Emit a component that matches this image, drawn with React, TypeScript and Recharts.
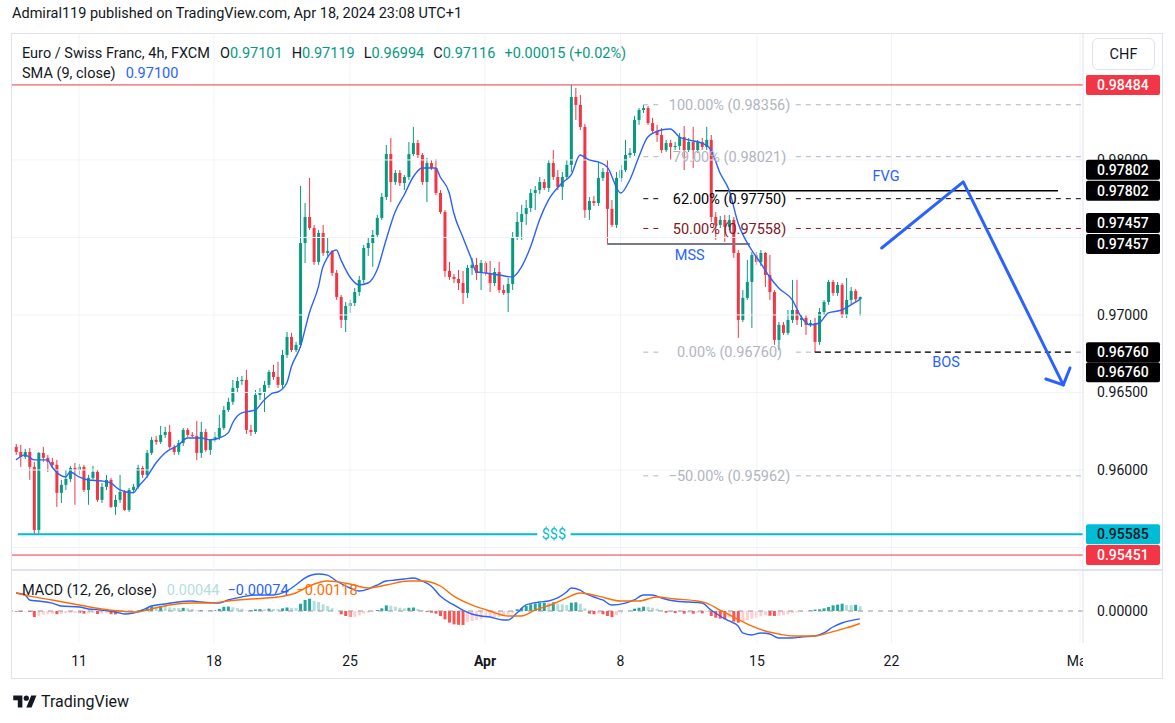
import React from 'react';
import { ComposedChart, Bar, Line, XAxis, YAxis, ReferenceLine, ReferenceDot, Cell } from 'recharts';

const FONT = "Roboto, 'Noto Sans', 'DejaVu Sans', sans-serif";
const TEXT = '#131722';
const UP = '#089981';
const DOWN = '#f23645';
const GRID = '#f0f3fa';
const BLUE = '#2962ff';
const ORANGE = '#ff6d00';
const FIBGRAY = '#b2b5be';
const BORDER = '#e0e3eb';

const CHART_W = 1152;
const AXIS_W = 80;
const AXIS_X = CHART_W - AXIS_W;
const MAIN_H = 536;
const MACD_H = 108;
const TIME_H = 35;
const X_DOMAIN: [number, number] = [-1.11, 236.43];
const PRICE_DOMAIN: [number, number] = [0.95361, 0.98819];
const MACD_DOMAIN: [number, number] = [-0.00302, 0.00387];

// ---- 4h candles, EUR/CHF ----
const opens = [
  0.96149, 0.96116, 0.96084, 0.96116, 0.96020, 0.95613, 0.96110, 0.96078, 0.96052, 0.96033,
  0.95852, 0.95904, 0.95942, 0.96013, 0.96000, 0.96020, 0.95871, 0.95949, 0.95987, 0.95807,
  0.95891, 0.95936, 0.95762, 0.95807, 0.95858, 0.95742, 0.95871, 0.95891, 0.96013, 0.95968,
  0.96110, 0.96194, 0.96181, 0.96226, 0.96245, 0.96149, 0.96116, 0.96174, 0.96258, 0.96226,
  0.96220, 0.96110, 0.96245, 0.96129, 0.96194, 0.96213, 0.96271, 0.96387, 0.96439, 0.96529,
  0.96574, 0.96581, 0.96258, 0.96245, 0.96484, 0.96503, 0.96549, 0.96632, 0.96600, 0.96549,
  0.96742, 0.96858, 0.96774, 0.96807, 0.97464, 0.97632, 0.97561, 0.97342, 0.97529, 0.97400,
  0.97413, 0.97271, 0.97116, 0.96968, 0.97058, 0.97077, 0.97148, 0.97226, 0.97432, 0.97464,
  0.97516, 0.97626, 0.97761, 0.98038, 0.97858, 0.97916, 0.97851, 0.97890, 0.98038, 0.98109,
  0.98032, 0.97858, 0.97980, 0.97948, 0.97787, 0.97664, 0.97284, 0.97245, 0.97232, 0.97206,
  0.97142, 0.97303, 0.97323, 0.97271, 0.97335, 0.97271, 0.97206, 0.97277, 0.97161, 0.97142,
  0.97200, 0.97503, 0.97600, 0.97651, 0.97690, 0.97787, 0.97806, 0.97858, 0.97819, 0.97980,
  0.97890, 0.97826, 0.97890, 0.97968, 0.98406, 0.98355, 0.98213, 0.97677, 0.97735, 0.97722,
  0.97884, 0.97922, 0.97684, 0.97581, 0.97884, 0.97935, 0.98032, 0.98045, 0.98258, 0.98322,
  0.98335, 0.98238, 0.98187, 0.98161, 0.98064, 0.98109, 0.98084, 0.98090, 0.98148, 0.98064,
  0.98116, 0.98064, 0.98116, 0.98084, 0.98129, 0.97632, 0.97581, 0.97613, 0.97568, 0.97613,
  0.97400, 0.96968, 0.97110, 0.97213, 0.97387, 0.97342, 0.97400, 0.97258, 0.97148, 0.96839,
  0.96936, 0.96884, 0.96968, 0.97032, 0.96968, 0.96981, 0.96936, 0.96948, 0.96826, 0.97019,
  0.97084, 0.97213, 0.97142, 0.97194, 0.97000, 0.97097, 0.97155, 0.97101,
];
const highs = [
  0.96168, 0.96162, 0.96136, 0.96142, 0.96052, 0.96116, 0.96149, 0.96097, 0.96078, 0.96065,
  0.95936, 0.96000, 0.96026, 0.96045, 0.96039, 0.96033, 0.95968, 0.96026, 0.96000, 0.95916,
  0.95968, 0.95949, 0.95839, 0.95968, 0.95871, 0.95884, 0.95910, 0.96033, 0.96026, 0.96129,
  0.96213, 0.96220, 0.96284, 0.96278, 0.96291, 0.96162, 0.96194, 0.96271, 0.96271, 0.96245,
  0.96316, 0.96310, 0.96265, 0.96200, 0.96245, 0.96355, 0.96413, 0.96465, 0.96581, 0.96600,
  0.96607, 0.96645, 0.96291, 0.96516, 0.96529, 0.96574, 0.96645, 0.96678, 0.96697, 0.96774,
  0.96890, 0.96884, 0.96826, 0.97832, 0.97722, 0.97884, 0.97581, 0.97548, 0.97581, 0.97497,
  0.97419, 0.97290, 0.97129, 0.97084, 0.97097, 0.97174, 0.97252, 0.97452, 0.97497, 0.97548,
  0.97645, 0.97787, 0.98097, 0.98142, 0.97935, 0.97935, 0.97903, 0.98116, 0.98213, 0.98129,
  0.98045, 0.98013, 0.98000, 0.98006, 0.97806, 0.97677, 0.97342, 0.97264, 0.97290, 0.97284,
  0.97323, 0.97368, 0.97368, 0.97355, 0.97348, 0.97348, 0.97303, 0.97342, 0.97194, 0.97239,
  0.97535, 0.97664, 0.97710, 0.97742, 0.97813, 0.97832, 0.97890, 0.97877, 0.98000, 0.98064,
  0.97935, 0.97922, 0.98000, 0.98484, 0.98465, 0.98419, 0.98232, 0.97761, 0.97768, 0.97987,
  0.97948, 0.98000, 0.97742, 0.97922, 0.97968, 0.98129, 0.98077, 0.98284, 0.98335, 0.98356,
  0.98348, 0.98271, 0.98226, 0.98206, 0.98129, 0.98129, 0.98116, 0.98174, 0.98219, 0.98142,
  0.98213, 0.98129, 0.98142, 0.98213, 0.98161, 0.97664, 0.97639, 0.97645, 0.97645, 0.97632,
  0.97419, 0.97161, 0.97355, 0.97406, 0.97406, 0.97419, 0.97406, 0.97387, 0.97161, 0.96955,
  0.96955, 0.97032, 0.97226, 0.97226, 0.97000, 0.97000, 0.96968, 0.96981, 0.97045, 0.97097,
  0.97226, 0.97226, 0.97213, 0.97206, 0.97239, 0.97181, 0.97168, 0.97119,
];
const lows = [
  0.96097, 0.96020, 0.96071, 0.95936, 0.95585, 0.95590, 0.96052, 0.95987, 0.96013, 0.95762,
  0.95787, 0.95871, 0.95923, 0.95775, 0.95968, 0.95858, 0.95775, 0.95936, 0.95794, 0.95787,
  0.95871, 0.95755, 0.95710, 0.95787, 0.95736, 0.95729, 0.95852, 0.95878, 0.95949, 0.95949,
  0.96097, 0.96162, 0.96168, 0.96207, 0.96136, 0.96097, 0.96097, 0.96155, 0.96213, 0.96207,
  0.96065, 0.96078, 0.96116, 0.96097, 0.96181, 0.96194, 0.96258, 0.96374, 0.96420, 0.96497,
  0.96549, 0.96232, 0.96220, 0.96232, 0.96452, 0.96374, 0.96529, 0.96581, 0.96529, 0.96529,
  0.96723, 0.96761, 0.96761, 0.96787, 0.97335, 0.97548, 0.97323, 0.97323, 0.97381, 0.97381,
  0.97252, 0.97097, 0.96916, 0.96890, 0.97013, 0.97058, 0.97123, 0.97206, 0.97381, 0.97310,
  0.97497, 0.97613, 0.97742, 0.97729, 0.97839, 0.97832, 0.97806, 0.97871, 0.98026, 0.98013,
  0.97839, 0.97729, 0.97935, 0.97774, 0.97651, 0.97245, 0.97226, 0.97206, 0.97161, 0.97071,
  0.97110, 0.97258, 0.97226, 0.97161, 0.97252, 0.97148, 0.97187, 0.97142, 0.97129, 0.97019,
  0.97161, 0.97484, 0.97484, 0.97581, 0.97664, 0.97677, 0.97780, 0.97806, 0.97793, 0.97871,
  0.97806, 0.97742, 0.97871, 0.97922, 0.98258, 0.98193, 0.97626, 0.97613, 0.97703, 0.97703,
  0.97864, 0.97457, 0.97568, 0.97561, 0.97858, 0.97922, 0.98013, 0.98026, 0.98226, 0.98303,
  0.98226, 0.98174, 0.98116, 0.98045, 0.98051, 0.98000, 0.98064, 0.98064, 0.97935, 0.98051,
  0.97948, 0.98045, 0.98064, 0.98064, 0.97600, 0.97484, 0.97561, 0.97471, 0.97548, 0.97368,
  0.96852, 0.96955, 0.97097, 0.96916, 0.97323, 0.97316, 0.97181, 0.97097, 0.96807, 0.96774,
  0.96871, 0.96871, 0.96948, 0.96936, 0.96923, 0.96871, 0.96923, 0.96760, 0.96807, 0.97000,
  0.97065, 0.97123, 0.97123, 0.96981, 0.96981, 0.97065, 0.97077, 0.96994,
];
const closes = [
  0.96116, 0.96084, 0.96116, 0.96020, 0.95613, 0.96110, 0.96078, 0.96052, 0.96033, 0.95852,
  0.95904, 0.95942, 0.96013, 0.96000, 0.96020, 0.95871, 0.95949, 0.95987, 0.95807, 0.95891,
  0.95936, 0.95762, 0.95807, 0.95858, 0.95742, 0.95871, 0.95891, 0.96013, 0.95968, 0.96110,
  0.96194, 0.96181, 0.96226, 0.96245, 0.96149, 0.96116, 0.96174, 0.96258, 0.96226, 0.96220,
  0.96110, 0.96245, 0.96129, 0.96194, 0.96213, 0.96271, 0.96387, 0.96439, 0.96529, 0.96574,
  0.96581, 0.96258, 0.96245, 0.96484, 0.96503, 0.96549, 0.96632, 0.96600, 0.96549, 0.96742,
  0.96858, 0.96774, 0.96807, 0.97464, 0.97632, 0.97561, 0.97342, 0.97529, 0.97400, 0.97413,
  0.97271, 0.97116, 0.96968, 0.97058, 0.97077, 0.97148, 0.97226, 0.97432, 0.97464, 0.97516,
  0.97626, 0.97761, 0.98038, 0.97858, 0.97916, 0.97851, 0.97890, 0.98038, 0.98109, 0.98032,
  0.97858, 0.97980, 0.97948, 0.97787, 0.97664, 0.97284, 0.97245, 0.97232, 0.97206, 0.97142,
  0.97303, 0.97323, 0.97271, 0.97335, 0.97271, 0.97206, 0.97277, 0.97161, 0.97142, 0.97200,
  0.97503, 0.97600, 0.97651, 0.97690, 0.97787, 0.97806, 0.97858, 0.97819, 0.97980, 0.97890,
  0.97826, 0.97890, 0.97968, 0.98406, 0.98355, 0.98213, 0.97677, 0.97735, 0.97722, 0.97884,
  0.97922, 0.97684, 0.97581, 0.97884, 0.97935, 0.98032, 0.98045, 0.98258, 0.98322, 0.98335,
  0.98238, 0.98187, 0.98161, 0.98064, 0.98109, 0.98084, 0.98090, 0.98148, 0.98064, 0.98116,
  0.98064, 0.98116, 0.98084, 0.98129, 0.97632, 0.97581, 0.97613, 0.97568, 0.97613, 0.97400,
  0.96968, 0.97110, 0.97213, 0.97387, 0.97342, 0.97400, 0.97258, 0.97148, 0.96839, 0.96936,
  0.96884, 0.96968, 0.97032, 0.96968, 0.96981, 0.96936, 0.96948, 0.96826, 0.97019, 0.97084,
  0.97213, 0.97142, 0.97194, 0.97000, 0.97097, 0.97155, 0.97101, 0.97116,
];

// ---- SMA(9, close) ----
const smaIdx = [
  0, 2, 4, 7, 8, 11, 12, 14, 16, 19, 21, 23, 26, 27, 29, 31, 33, 36, 38, 41, 43, 45, 47, 48, 50,
  53, 55, 57, 58, 60, 61, 63, 65, 67, 68, 71, 72, 74, 76, 78, 80, 82, 84, 86, 88, 90, 93, 94, 96,
  97, 99, 101, 102, 104, 107, 110, 112, 114, 116, 118, 121, 123, 125, 127, 129, 131, 134, 136,
  138, 140, 143, 145, 147, 149, 152, 154, 156, 158, 160, 163, 165, 167, 169, 172, 174, 176, 178,
  180, 183, 185, 187,
];
const smaVal = [
  0.96065, 0.96097, 0.96065, 0.96065, 0.96019, 0.95955, 0.95987, 0.95955, 0.95935, 0.95929,
  0.95916, 0.95871, 0.95852, 0.95890, 0.95955, 0.96045, 0.96110, 0.96161, 0.96206, 0.96206,
  0.96194, 0.96206, 0.96239, 0.96303, 0.96368, 0.96387, 0.96452, 0.96497, 0.96503, 0.96561,
  0.96664, 0.96794, 0.97013, 0.97181, 0.97310, 0.97419, 0.97355, 0.97245, 0.97194, 0.97206,
  0.97290, 0.97484, 0.97664, 0.97774, 0.97890, 0.97948, 0.97948, 0.97890, 0.97787, 0.97658,
  0.97503, 0.97355, 0.97277, 0.97271, 0.97258, 0.97245, 0.97310, 0.97439, 0.97613, 0.97742,
  0.97851, 0.97903, 0.98032, 0.98000, 0.97987, 0.97955, 0.97787, 0.97871, 0.98019, 0.98148,
  0.98193, 0.98200, 0.98148, 0.98129, 0.98109, 0.98064, 0.97916, 0.97806, 0.97593, 0.97419,
  0.97335, 0.97245, 0.97174, 0.97097, 0.96987, 0.96936, 0.96948, 0.97013, 0.97032, 0.97065,
  0.97100,
];

// ---- MACD (12, 26, close) ----
const macdIdx = [
  0, 2, 3, 5, 8, 10, 14, 16, 19, 22, 24, 26, 28, 30, 33, 36, 39, 41, 45, 47, 50, 53, 57, 60, 62,
  64, 67, 69, 71, 74, 76, 78, 80, 82, 84, 86, 88, 90, 92, 94, 97, 99, 101, 103, 105, 108, 109,
  111, 113, 116, 118, 120, 122, 123, 125, 126, 128, 130, 132, 135, 137, 139, 141, 143, 146, 149,
  152, 154, 156, 158, 160, 161, 163, 165, 167, 169, 172, 174, 177, 179, 181, 183, 187,
];
const macdVal = [
  0.0017, 0.00151, 0.00104, 0.00094, 0.00075, 0.00047, 0.00038, 0.00019, 0.00009, -0.00009,
  -0.00028, -0.00019, 0.00009, 0.00047, 0.00066, 0.00085, 0.00094, 0.00085, 0.00075, 0.00104,
  0.00132, 0.00151, 0.00151, 0.00189, 0.00245, 0.00311, 0.00349, 0.00339, 0.00283, 0.00217,
  0.00189, 0.00207, 0.00245, 0.00283, 0.00292, 0.00302, 0.00311, 0.00283, 0.00236, 0.00141,
  0.00057, 0.00009, -0.00028, -0.00047, -0.00057, -0.00085, -0.00085, -0.00019, 0.00057, 0.00085,
  0.00094, 0.00123, 0.00179, 0.00217, 0.00198, 0.0017, 0.00132, 0.00104, 0.00057, 0.00075,
  0.00104, 0.00151, 0.00151, 0.00123, 0.00094, 0.00085, 0.00075, 0.00009, -0.00047, -0.00094,
  -0.00141, -0.00207, -0.00226, -0.00207, -0.00217, -0.00255, -0.00255, -0.00245, -0.00236,
  -0.00207, -0.00151, -0.00113, -0.00074,
];
const sigIdx = [
  0, 3, 8, 14, 19, 23, 27, 30, 34, 39, 43, 47, 52, 58, 62, 65, 69, 74, 78, 82, 87, 90, 94, 97,
  101, 105, 109, 112, 115, 119, 122, 125, 129, 134, 138, 142, 146, 151, 153, 156, 159, 163, 166,
  169, 172, 177, 180, 184, 187,
];
const sigVal = [
  0.0017, 0.00141, 0.00104, 0.00057, 0.00019, 0, -0.00009, 0.00019, 0.00057, 0.00075,
  0.00075, 0.00094, 0.00113, 0.00132, 0.0017, 0.00236, 0.00283, 0.00255, 0.00217, 0.00245,
  0.00283, 0.00283, 0.00236, 0.00141, 0.00057, 0, -0.00047, -0.00047, 0.00009, 0.00066,
  0.00123, 0.0017, 0.00141, 0.00094, 0.00094, 0.00132, 0.00113, 0.00094, 0.00075, 0.00009,
  -0.00057, -0.00141, -0.00189, -0.00217, -0.00236, -0.00236, -0.00207, -0.0016, -0.00118,
];
const hist = [
  -0.00006, -0.00009, -0.00006, -0.0001, -0.00057, -0.00045, -0.00035, -0.0003, -0.00025, -0.0003,
  -0.00028, -0.00022, -0.0002, -0.00018, -0.0002, -0.00025, -0.00022, -0.0002, -0.00028, -0.00025,
  -0.0002, -0.0003, -0.00032, -0.00022, -0.00012, -0.00008, -0.00005, 0.00006, 0.00015, 0.0003,
  0.00045, 0.00043, 0.00048, 0.00046, 0.00035, 0.0003, 0.00028, 0.0003, 0.00025, 0.0002,
  0.00006, 0.00008, 0.00003, 0.00005, 0.00008, 0.0002, 0.0004, 0.00042, 0.00035, 0.00028,
  0.00022, 0.00005, 0.0001, 0.00015, 0.00018, 0.00016, 0.00022, 0.0002, 0.00018, 0.00025,
  0.00033, 0.0003, 0.00028, 0.00069, 0.00104, 0.00116, 0.00094, 0.00085, 0.00063, 0.00047,
  0.00025, 0.00003, -0.00031, -0.00047, -0.00057, -0.00055, -0.00041, -0.00025, -0.00016, -0.00006,
  0.00009, 0.00025, 0.00053, 0.0005, 0.00041, 0.00031, 0.00025, 0.00031, 0.00033, 0.00019,
  0.00006, -0.00009, -0.00016, -0.00025, -0.00047, -0.00079, -0.0011, -0.00126, -0.0013, -0.00132,
  -0.00104, -0.00094, -0.00085, -0.00079, -0.00063, -0.00057, -0.00055, -0.00053, -0.00047, -0.00031,
  -0.00019, 0.00016, 0.00025, 0.00047, 0.00063, 0.00072, 0.00075, 0.00079, 0.00077, 0.00082,
  0.00069, 0.00063, 0.00057, 0.00079, 0.00082, 0.00069, 0.00025, -0.00025, -0.00031, -0.00025,
  -0.00031, -0.00047, -0.00057, -0.00041, -0.00022, -0.00003, 0.00003, 0.00022, 0.00031, 0.00041,
  0.00038, 0.00031, 0.00022, 0.00006, -0.00016, -0.00012, -0.00019, -0.00009, -0.00025, -0.00016,
  -0.00025, -0.00016, -0.00022, -0.00009, -0.00047, -0.00063, -0.00072, -0.00079, -0.00063, -0.001,
  -0.0011, -0.001, -0.00088, -0.00072, -0.00063, -0.0005, -0.00041, -0.00045, -0.00047, -0.00045,
  -0.00041, -0.00031, -0.00019, -0.00013, -0.00009, -0.00003, 0.00006, 0.00013, 0.00016, 0.00025,
  0.00038, 0.00053, 0.0006, 0.00069, 0.00057, 0.00055, 0.00058, 0.00044,
];

// ---- axes ----
const tickPositions = [13.96, 43.87, 74.01, 103.92, 133.95, 164.19, 193.99, 235.76];
const tickLabels = ['11', '18', '25', 'Apr', '8', '15', '22', 'May'];
const priceGrid = [0.955, 0.96, 0.965, 0.97, 0.975, 0.98];
const priceLabels = [0.96, 0.965, 0.97, 0.98];

// ---- drawings ----
const priceBoxes = [
  { value: 0.98484, bg: '#f23645', fg: '#ffffff', shifts: [0] },
  { value: 0.97802, bg: '#000000', fg: '#ffffff', shifts: [-21, 0] },
  { value: 0.97457, bg: '#000000', fg: '#ffffff', shifts: [-21, 0] },
  { value: 0.9676, bg: '#000000', fg: '#ffffff', shifts: [0, 20] },
  { value: 0.95585, bg: '#00bcd4', fg: '#131722', shifts: [0] },
  { value: 0.95451, bg: '#f23645', fg: '#ffffff', shifts: [0] },
];
const fibLevels = [
  { label: '100.00% (0.98356)', value: 0.98356, color: FIBGRAY },
  { label: '79.00% (0.98021)', value: 0.98021, color: FIBGRAY },
  { label: '62.00% (0.97750)', value: 0.9775, color: '#000000' },
  { label: '50.00% (0.97558)', value: 0.97558, color: '#801922' },
  { label: '0.00% (0.96760)', value: 0.9676, color: FIBGRAY },
  { label: '\u221250.00% (0.95962)', value: 0.95962, color: FIBGRAY },
];
const fibStart = 139;
const fibGapLeft = 143.4;
const fibGapRight = 172.8;
const fibTextAt = 158.1;
const arrowShaft = [
  { i: 191.82, v: 0.97432 },
  { i: 209.9, v: 0.97858 },
  { i: 232.06, v: 0.96549 },
];
const arrowHead = [
  { i: 228.2, v: 0.96587 },
  { i: 232.06, v: 0.96549 },
  { i: 233.55, v: 0.96658 },
];
const notes = [
  { text: 'MSS', i: 149.3, v: 0.97387, color: BLUE },
  { text: 'FVG', i: 192.8, v: 0.97897, color: BLUE },
  { text: 'BOS', i: 206.1, v: 0.96697, color: BLUE },
  { text: '$$$', i: 119.2, v: 0.95585, color: '#00bcd4' },
];

const Candle = (props: any) => {
  const { x, y, width, height, payload } = props;
  if (!payload) return null;
  const top = Math.min(y, y + height);
  const h = Math.abs(height);
  const span = payload.high - payload.low;
  const per = span > 0 ? h / span : 0;
  const yO = top + (payload.high - payload.open) * per;
  const yC = top + (payload.high - payload.close) * per;
  const color = payload.close >= payload.open ? UP : DOWN;
  const cx = x + width / 2;
  return (
    <g>
      <line x1={cx} x2={cx} y1={top} y2={top + h} stroke={color} strokeWidth={1} />
      <rect x={x} y={Math.min(yO, yC)} width={width} height={Math.max(1, Math.abs(yC - yO))} fill={color} />
    </g>
  );
};

const PriceTick = (props: any) => {
  const { y, payload } = props;
  const v = payload.value as number;
  const box = priceBoxes.find((b) => Math.abs(b.value - v) < 1e-9);
  if (!box) {
    return (
      <text x={AXIS_X + 14} y={y} dy="0.36em" fontSize={14} fill={TEXT} fontFamily={FONT}>
        {v.toFixed(5)}
      </text>
    );
  }
  return (
    <g>
      {box.shifts.map((s, k) => (
        <g key={k}>
          <rect x={AXIS_X + 3} y={y + s - 10} width={74} height={20} rx={2} fill={box.bg} />
          <text x={AXIS_X + 14} y={y + s} dy="0.36em" fontSize={14} fill={box.fg} fontFamily={FONT} fontWeight={500}>
            {v.toFixed(5)}
          </text>
        </g>
      ))}
    </g>
  );
};

const MacdTick = (props: any) => {
  const { y, payload } = props;
  return (
    <text x={AXIS_X + 14} y={y} dy="0.36em" fontSize={14} fill={TEXT} fontFamily={FONT}>
      {(payload.value as number).toFixed(5)}
    </text>
  );
};

const TimeTick = (props: any) => {
  const { x, payload } = props;
  const k = tickPositions.indexOf(payload.value);
  const label = tickLabels[k];
  return (
    <svg x={0} y={MACD_H - TIME_H} width={AXIS_X} height={TIME_H} overflow="hidden">
      <text x={x} y={18} dy="0.36em" textAnchor="middle" fontSize={14} fill={TEXT} fontFamily={FONT}
        fontWeight={label === 'Apr' ? 700 : 400}>
        {label}
      </text>
    </svg>
  );
};

const TvLogo = () => (
  <svg width={24} height={17} viewBox="0 0 36 26">
    <path d="M14 22H7V11H0V4h14v18z" fill={TEXT} />
    <circle cx={20} cy={8} r={4} fill={TEXT} />
    <path d="M28 22h-8l7.5-18h8L28 22z" fill={TEXT} />
  </svg>
);

export default function App() {
  const candles = opens.map((o, i) => ({
    i, open: o, high: highs[i], low: lows[i], close: closes[i], range: [lows[i], highs[i]],
  }));
  const smaData = smaIdx.map((i, k) => ({ i, v: smaVal[k] }));
  const macdData = macdIdx.map((i, k) => ({ i, v: macdVal[k] }));
  const sigData = sigIdx.map((i, k) => ({ i, v: sigVal[k] }));
  const histData = hist.map((h, i) => ({ i, h }));
  const histColors = hist.map((h, i) => {
    const p = i > 0 ? hist[i - 1] : h;
    if (h >= 0) return h >= p ? '#26a69a' : '#b2dfdb';
    return h <= p ? '#ff5252' : '#ffcdd2';
  });
  const yTicks = [...priceLabels, ...priceBoxes.map((b) => b.value)];
  const xEnd = X_DOMAIN[1];

  const green = { color: UP };
  const legendStyle: React.CSSProperties = {
    position: 'absolute', left: 22, fontSize: 14.5, lineHeight: '20px', color: TEXT,
    fontFamily: FONT, whiteSpace: 'nowrap',
  };

  return (
    <div style={{ position: 'absolute', left: 0, top: 0, width: 1175, height: 723, background: '#fff', fontFamily: FONT }}>
      <div style={{ position: 'absolute', left: 12, top: 4, fontSize: 14.5, lineHeight: '20px', color: TEXT, whiteSpace: 'nowrap' }}>
        Admiral119 published on TradingView.com, Apr 18, 2024 23:08 UTC+1
      </div>

      <div style={{ position: 'absolute', left: 11, top: 33 }}>
        <ComposedChart width={CHART_W} height={MAIN_H} data={candles} margin={{ top: 0, right: 0, bottom: 0, left: 0 }}>
          <XAxis dataKey="i" type="number" domain={X_DOMAIN} allowDataOverflow hide />
          <YAxis
            orientation="right" width={AXIS_W} domain={PRICE_DOMAIN} allowDataOverflow ticks={yTicks}
            interval={0} tick={PriceTick} tickLine={false} axisLine={{ stroke: BORDER }}
          />
          {priceGrid.map((v) => (
            <ReferenceLine key={'gy' + v} y={v} stroke={GRID} strokeWidth={1} />
          ))}
          {tickPositions.map((t) => (
            <ReferenceLine key={'gx' + t} x={t} stroke={GRID} strokeWidth={1} />
          ))}
          <ReferenceLine y={0.98484} stroke={DOWN} strokeWidth={1} />
          <ReferenceLine y={0.95451} stroke={DOWN} strokeWidth={1} />
          <ReferenceLine segment={[{ x: 0.4, y: 0.95585 }, { x: 115.5, y: 0.95585 }]} stroke="#00bcd4" strokeWidth={2} />
          <ReferenceLine segment={[{ x: 122.9, y: 0.95585 }, { x: xEnd, y: 0.95585 }]} stroke="#00bcd4" strokeWidth={2} />
          {fibLevels.map((f) => (
            <ReferenceLine key={'fa' + f.value} segment={[{ x: fibStart, y: f.value }, { x: fibGapLeft, y: f.value }]}
              stroke={f.color} strokeWidth={1} strokeDasharray="5 5" />
          ))}
          {fibLevels.map((f) => (
            <ReferenceLine key={'fb' + f.value} segment={[{ x: fibGapRight, y: f.value }, { x: xEnd, y: f.value }]}
              stroke={f.color} strokeWidth={1} strokeDasharray="5 5" />
          ))}
          {fibLevels.map((f) => (
            <ReferenceDot key={'ft' + f.value} x={fibTextAt} y={f.value} r={0} fill="none" stroke="none"
              label={{ value: f.label, position: 'center', fill: f.color, fontSize: 14.5, fontFamily: FONT }} />
          ))}
          <ReferenceLine segment={[{ x: 131, y: 0.97457 }, { x: 162.6, y: 0.97457 }]} stroke="#787b86" strokeWidth={2} />
          <ReferenceLine segment={[{ x: 154.9, y: 0.97802 }, { x: 230.9, y: 0.97802 }]} stroke="#000000" strokeWidth={1.5} />
          <ReferenceLine segment={[{ x: 177, y: 0.9676 }, { x: 234.2, y: 0.9676 }]} stroke="#000000" strokeWidth={1.2} strokeDasharray="6 4" />
          {notes.map((n) => (
            <ReferenceDot key={n.text} x={n.i} y={n.v} r={0} fill="none" stroke="none"
              label={{ value: n.text, position: 'center', fill: n.color, fontSize: 14.5, fontFamily: FONT }} />
          ))}
          <Bar dataKey="range" barSize={3} shape={Candle} isAnimationActive={false} />
          <Line data={smaData} dataKey="v" type="monotone" stroke={BLUE} strokeWidth={1.4} dot={false} isAnimationActive={false} />
          <Line data={arrowShaft} dataKey="v" type="linear" stroke={BLUE} strokeWidth={3} dot={false}
            strokeLinejoin="round" strokeLinecap="round" isAnimationActive={false} />
          <Line data={arrowHead} dataKey="v" type="linear" stroke={BLUE} strokeWidth={3} dot={false}
            strokeLinejoin="round" strokeLinecap="round" isAnimationActive={false} />
        </ComposedChart>
      </div>

      <div style={{ position: 'absolute', left: 11, top: 569, width: CHART_W, height: 2, background: BORDER }} />

      <div style={{ position: 'absolute', left: 11, top: 570 }}>
        <ComposedChart width={CHART_W} height={MACD_H} data={histData} margin={{ top: 0, right: 0, bottom: 0, left: 0 }}>
          <XAxis dataKey="i" type="number" domain={X_DOMAIN} allowDataOverflow ticks={tickPositions} interval={0}
            tick={TimeTick} axisLine={false} tickLine={false} height={TIME_H} />
          <YAxis orientation="right" width={AXIS_W} domain={MACD_DOMAIN} allowDataOverflow ticks={[0]} interval={0}
            tick={MacdTick} tickLine={false} axisLine={{ stroke: BORDER }} />
          {tickPositions.map((t) => (
            <ReferenceLine key={'mgx' + t} x={t} stroke={GRID} strokeWidth={1} />
          ))}
          <ReferenceLine y={0} stroke="#9598a1" strokeWidth={1} strokeDasharray="5 5" />
          <Bar dataKey="h" barSize={3} isAnimationActive={false}>
            {histData.map((d, k) => (
              <Cell key={k} fill={histColors[k]} />
            ))}
          </Bar>
          <Line data={macdData} dataKey="v" type="monotone" stroke={BLUE} strokeWidth={1.4} dot={false} isAnimationActive={false} />
          <Line data={sigData} dataKey="v" type="monotone" stroke={ORANGE} strokeWidth={1.4} dot={false} isAnimationActive={false} />
        </ComposedChart>
      </div>

      <div style={{ ...legendStyle, top: 44 }}>
        <span>Euro / Swiss Franc, 4h, FXCM</span>
        <span style={{ marginLeft: 10 }}>O<span style={green}>0.97101</span></span>
        <span style={{ marginLeft: 9 }}>H<span style={green}>0.97119</span></span>
        <span style={{ marginLeft: 9 }}>L<span style={green}>0.96994</span></span>
        <span style={{ marginLeft: 9 }}>C<span style={green}>0.97116</span></span>
        <span style={{ marginLeft: 9, color: UP }}>+0.00015 (+0.02%)</span>
      </div>
      <div style={{ ...legendStyle, top: 64 }}>
        <span>SMA (9, close)</span>
        <span style={{ marginLeft: 10, color: BLUE }}>0.97100</span>
      </div>
      <div style={{ ...legendStyle, top: 581 }}>
        <span>MACD (12, 26, close)</span>
        <span style={{ marginLeft: 10, color: '#b2dfdb' }}>0.00044</span>
        <span style={{ marginLeft: 8, color: BLUE }}>{'\u22120.00074'}</span>
        <span style={{ marginLeft: 8, color: ORANGE }}>{'\u22120.00118'}</span>
      </div>

      <div style={{
        position: 'absolute', left: 1092, top: 38, width: 63, height: 32, boxSizing: 'border-box',
        border: '1px solid ' + BORDER, borderRadius: 6, fontSize: 14.5, color: TEXT,
        display: 'flex', alignItems: 'center', justifyContent: 'center',
      }}>CHF</div>

      <div style={{
        position: 'absolute', left: 11, top: 33, width: CHART_W, height: 646, boxSizing: 'border-box',
        border: '1px solid ' + BORDER, pointerEvents: 'none',
      }} />

      <div style={{ position: 'absolute', left: 13, top: 692, display: 'flex', alignItems: 'center', gap: 4 }}>
        <TvLogo />
        <span style={{ fontSize: 16, color: TEXT }}>TradingView</span>
      </div>
    </div>
  );
}
